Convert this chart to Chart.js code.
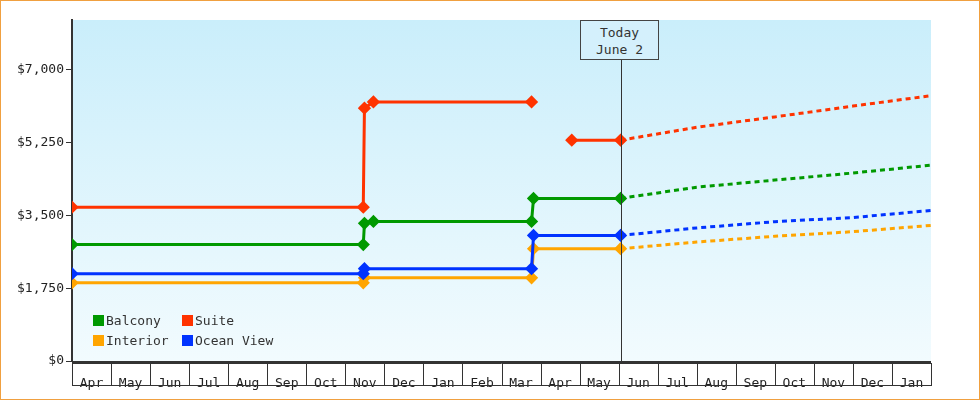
<!DOCTYPE html>
<html><head><meta charset="utf-8">
<script src="https://cdn.jsdelivr.net/npm/chart.js@4"></script>
<style>
html,body{margin:0;padding:0;background:#fff;}
#wrap{position:relative;width:978px;height:398px;border:1px solid #f0a040;}
canvas{display:block;}
.lg{position:absolute;font:13px "DejaVu Sans Mono",monospace;color:#333;}
.sw{display:inline-block;width:11px;height:11px;vertical-align:-1px;margin-right:2px;}
#today{position:absolute;left:579px;top:19px;width:79px;height:40px;border:1px solid #444;background:#d4f0fc;font:13px "DejaVu Sans Mono",monospace;color:#333;text-align:center;line-height:17px;box-sizing:border-box;padding-top:3px;}
</style></head><body>
<div id="wrap"><canvas id="c" width="978" height="398"></canvas>
<div class="lg" style="left:92px;top:312px"><span class="sw" style="background:#009900"></span>Balcony</div>
<div class="lg" style="left:181px;top:312px"><span class="sw" style="background:#ff3300"></span>Suite</div>
<div class="lg" style="left:92px;top:332px"><span class="sw" style="background:#ffa500"></span>Interior</div>
<div class="lg" style="left:181px;top:332px"><span class="sw" style="background:#0033ff"></span>Ocean View</div>
<div id="today">Today<br>June 2</div>
</div>
<script>
const months=["Apr","May","Jun","Jul","Aug","Sep","Oct","Nov","Dec","Jan","Feb","Mar","Apr","May","Jun","Jul","Aug","Sep","Oct","Nov","Dec","Jan"];
const yTicks=[0,1750,3500,5250,7000];
const todayX=14.05;
// x in months since start of first April
const suiteX=[0,7.46,7.49,7.72,11.77,null,12.8,14.05];
const suiteY=[3700,3700,6080,6230,6230,null,5310,5310];
const balconyX=[0,7.46,7.49,7.72,11.77,11.82,14.05];
const balconyY=[2800,2800,3310,3355,3355,3910,3910];
const interiorX=[0,7.46,7.49,11.77,11.82,14.05];
const interiorY=[1880,1880,2000,2000,2700,2700];
const oceanX=[0,7.46,7.49,11.77,11.82,14.05];
const oceanY=[2100,2100,2220,2220,3020,3020];
const fcX=[14.05,16,18,20,22];
const suiteF=[5310,5620,5870,6130,6380];
const balconyF=[3910,4180,4350,4520,4710];
const interiorF=[2700,2860,3000,3110,3260];
const oceanF=[3020,3200,3350,3450,3620];
function pts(xs,ys){return xs.map((x,i)=>x===null?{x:NaN,y:null}:{x:x,y:ys[i]});}
function solid(label,xs,ys,c){return {label,data:pts(xs,ys),borderColor:c,backgroundColor:c,borderWidth:3,pointStyle:'rectRot',pointRadius:4.5,pointHoverRadius:4.5,spanGaps:false};}
function dash(xs,ys,c){return {label:'',data:pts(xs,ys),borderColor:c,borderWidth:3,borderDash:[5,4],pointRadius:0};}
const bg={id:'bg',beforeDraw(ch){const a=ch.chartArea,ctx=ch.ctx;const g=ctx.createLinearGradient(0,a.top,0,a.bottom);g.addColorStop(0,'#caeefb');g.addColorStop(1,'#f2fbfe');ctx.fillStyle=g;ctx.fillRect(a.left,a.top,a.right-a.left,a.bottom-a.top);},
afterDraw(ch){const a=ch.chartArea,ctx=ch.ctx,xs=ch.scales.x;ctx.save();ctx.strokeStyle='#333';ctx.lineWidth=1;
const tx=Math.round(xs.getPixelForValue(todayX))+0.5;ctx.beginPath();ctx.moveTo(tx,a.top+40);ctx.lineTo(tx,a.bottom);ctx.stroke();
ctx.beginPath();ctx.moveTo(a.left,a.bottom+24.5);ctx.lineTo(a.right,a.bottom+24.5);ctx.moveTo(a.left,a.bottom+2.5);ctx.lineTo(a.right,a.bottom+2.5);
for(let i=0;i<=months.length;i++){const p=Math.round(xs.getPixelForValue(i))+0.5;ctx.moveTo(p,a.bottom+2);ctx.lineTo(p,a.bottom+25);}ctx.stroke();
ctx.lineWidth=2;ctx.beginPath();ctx.moveTo(a.left,a.bottom+1);ctx.lineTo(a.right,a.bottom+1);ctx.stroke();ctx.restore();}};
new Chart(document.getElementById('c'),{type:'line',
data:{datasets:[solid('Suite',suiteX,suiteY,'#ff3300'),solid('Balcony',balconyX,balconyY,'#009900'),solid('Ocean View',oceanX,oceanY,'#0033ff'),solid('Interior',interiorX,interiorY,'#ffa500'),
dash(fcX,suiteF,'#ff3300'),dash(fcX,balconyF,'#009900'),dash(fcX,oceanF,'#0033ff'),dash(fcX,interiorF,'#ffa500')]},
options:{responsive:false,animation:false,layout:{padding:{top:19,right:48,left:0,bottom:0}},
plugins:{legend:{display:false},tooltip:{enabled:false}},
scales:{x:{type:'linear',min:0,max:months.length,grid:{display:false},border:{display:false},
afterBuildTicks(s){s.ticks=months.map((m,i)=>({value:i+0.5}));},
afterFit(s){s.height=38;},
ticks:{autoSkip:false,maxRotation:0,padding:7,color:'#222',font:{family:'DejaVu Sans Mono',size:13},callback:(v,i)=>months[i]}},
y:{min:0,max:8200,afterBuildTicks(s){s.ticks=yTicks.map(v=>({value:v}));},afterFit(s){s.width=71;},
grid:{drawOnChartArea:false,color:'#333',tickLength:6},border:{color:'#333',width:2},
ticks:{color:'#222',padding:2,font:{family:'DejaVu Sans Mono',size:13},callback:v=>'$'+v.toLocaleString('en-US')}}}},
plugins:[bg]});
</script></body></html>
